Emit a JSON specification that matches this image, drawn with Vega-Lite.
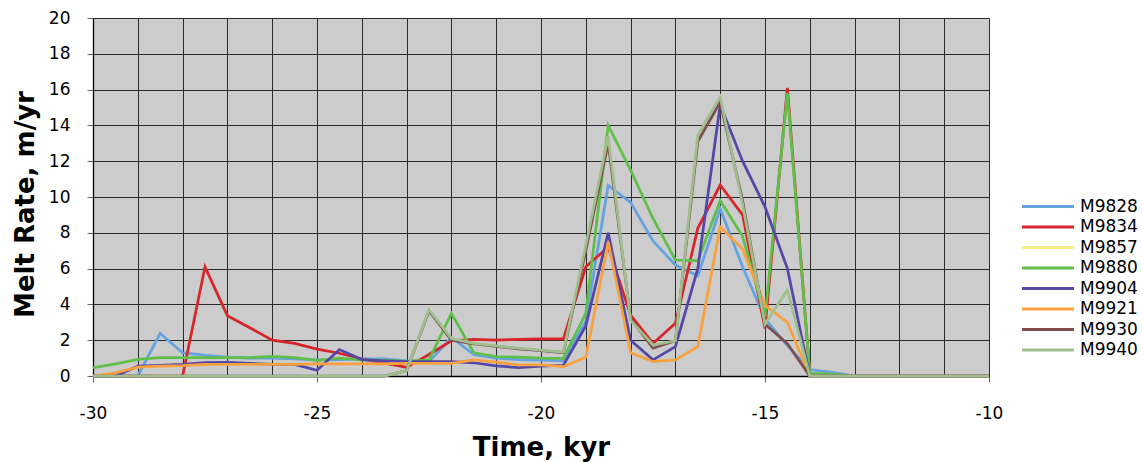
{
"$schema": "https://vega.github.io/schema/vega-lite/v6.json",
"width": 896, "height": 358,
"autosize": {"type": "none"},
"padding": {"left": 93, "top": 18, "right": 153, "bottom": 86},
"config": {
  "font": "DejaVu Sans",
  "view": {"fill": "#cccccc", "stroke": null},
  "axis": {"labelFont": "DejaVu Sans", "labelFontSize": 17, "labelColor": "#000000", "titleFont": "DejaVu Sans", "titleFontSize": 26, "titleFontWeight": "bold", "titleColor": "#000000", "gridColor": "#2b2b2b", "gridOpacity": 1, "gridWidth": 1, "domainColor": "#000000", "domainWidth": 1.3, "tickColor": "#666666", "tickSize": 6, "labelFlush": false, "labelOverlap": false}
},
"data": {"values": [
{"s":"M9828","t":-30,"v":0},{"s":"M9828","t":-29.5,"v":0},{"s":"M9828","t":-29,"v":0},{"s":"M9828","t":-28.5,"v":2.38},{"s":"M9828","t":-28,"v":1.3},{"s":"M9828","t":-27.5,"v":1.15},{"s":"M9828","t":-27,"v":1.05},{"s":"M9828","t":-26.5,"v":1.0},{"s":"M9828","t":-26,"v":1.0},{"s":"M9828","t":-25.5,"v":0.95},{"s":"M9828","t":-25,"v":0.9},{"s":"M9828","t":-24.5,"v":0.92},{"s":"M9828","t":-24,"v":0.95},{"s":"M9828","t":-23.5,"v":0.95},{"s":"M9828","t":-23,"v":0.85},{"s":"M9828","t":-22.5,"v":0.8},{"s":"M9828","t":-22,"v":2.15},{"s":"M9828","t":-21.5,"v":1.2},{"s":"M9828","t":-21,"v":1.0},{"s":"M9828","t":-20.5,"v":0.92},{"s":"M9828","t":-20,"v":0.88},{"s":"M9828","t":-19.5,"v":0.85},{"s":"M9828","t":-19,"v":3.05},{"s":"M9828","t":-18.5,"v":10.65},{"s":"M9828","t":-18,"v":9.7},{"s":"M9828","t":-17.5,"v":7.55},{"s":"M9828","t":-17,"v":6.2},{"s":"M9828","t":-16.5,"v":5.6},{"s":"M9828","t":-16,"v":9.35},{"s":"M9828","t":-15.5,"v":6.1},{"s":"M9828","t":-15,"v":3.2},{"s":"M9828","t":-14.5,"v":1.7},{"s":"M9828","t":-14,"v":0.35},{"s":"M9828","t":-13.5,"v":0.2},{"s":"M9828","t":-13,"v":0},{"s":"M9828","t":-12.5,"v":0},{"s":"M9828","t":-12,"v":0},{"s":"M9828","t":-11.5,"v":0},{"s":"M9828","t":-11,"v":0},{"s":"M9828","t":-10.5,"v":0},{"s":"M9828","t":-10,"v":0},
{"s":"M9834","t":-30,"v":0},{"s":"M9834","t":-29.5,"v":0},{"s":"M9834","t":-29,"v":0},{"s":"M9834","t":-28.5,"v":0},{"s":"M9834","t":-28,"v":0},{"s":"M9834","t":-27.5,"v":6.1},{"s":"M9834","t":-27,"v":3.37},{"s":"M9834","t":-26.5,"v":2.7},{"s":"M9834","t":-26,"v":2.0},{"s":"M9834","t":-25.5,"v":1.82},{"s":"M9834","t":-25,"v":1.5},{"s":"M9834","t":-24.5,"v":1.27},{"s":"M9834","t":-24,"v":0.95},{"s":"M9834","t":-23.5,"v":0.72},{"s":"M9834","t":-23,"v":0.48},{"s":"M9834","t":-22.5,"v":1.2},{"s":"M9834","t":-22,"v":1.97},{"s":"M9834","t":-21.5,"v":2.05},{"s":"M9834","t":-21,"v":2.0},{"s":"M9834","t":-20.5,"v":2.05},{"s":"M9834","t":-20,"v":2.07},{"s":"M9834","t":-19.5,"v":2.07},{"s":"M9834","t":-19,"v":6.1},{"s":"M9834","t":-18.5,"v":7.2},{"s":"M9834","t":-18,"v":3.4},{"s":"M9834","t":-17.5,"v":1.82},{"s":"M9834","t":-17,"v":2.94},{"s":"M9834","t":-16.5,"v":8.25},{"s":"M9834","t":-16,"v":10.67},{"s":"M9834","t":-15.5,"v":9.0},{"s":"M9834","t":-15,"v":2.65},{"s":"M9834","t":-14.5,"v":16.1},{"s":"M9834","t":-14,"v":0.12},{"s":"M9834","t":-13.5,"v":0.05},{"s":"M9834","t":-13,"v":0},{"s":"M9834","t":-12.5,"v":0},{"s":"M9834","t":-12,"v":0},{"s":"M9834","t":-11.5,"v":0},{"s":"M9834","t":-11,"v":0},{"s":"M9834","t":-10.5,"v":0},{"s":"M9834","t":-10,"v":0},
{"s":"M9880","t":-30,"v":0.46},{"s":"M9880","t":-29.5,"v":0.68},{"s":"M9880","t":-29,"v":0.93},{"s":"M9880","t":-28.5,"v":1.02},{"s":"M9880","t":-28,"v":1.03},{"s":"M9880","t":-27.5,"v":1.03},{"s":"M9880","t":-27,"v":1.03},{"s":"M9880","t":-26.5,"v":1.03},{"s":"M9880","t":-26,"v":1.1},{"s":"M9880","t":-25.5,"v":1.03},{"s":"M9880","t":-25,"v":0.87},{"s":"M9880","t":-24.5,"v":1.0},{"s":"M9880","t":-24,"v":0.9},{"s":"M9880","t":-23.5,"v":0.88},{"s":"M9880","t":-23,"v":0.82},{"s":"M9880","t":-22.5,"v":0.9},{"s":"M9880","t":-22,"v":3.5},{"s":"M9880","t":-21.5,"v":1.3},{"s":"M9880","t":-21,"v":1.08},{"s":"M9880","t":-20.5,"v":1.05},{"s":"M9880","t":-20,"v":1.0},{"s":"M9880","t":-19.5,"v":0.99},{"s":"M9880","t":-19,"v":3.5},{"s":"M9880","t":-18.5,"v":14.0},{"s":"M9880","t":-18,"v":11.5},{"s":"M9880","t":-17.5,"v":8.8},{"s":"M9880","t":-17,"v":6.48},{"s":"M9880","t":-16.5,"v":6.44},{"s":"M9880","t":-16,"v":9.8},{"s":"M9880","t":-15.5,"v":7.8},{"s":"M9880","t":-15,"v":3.3},{"s":"M9880","t":-14.5,"v":15.8},{"s":"M9880","t":-14,"v":0.15},{"s":"M9880","t":-13.5,"v":0.1},{"s":"M9880","t":-13,"v":0},{"s":"M9880","t":-12.5,"v":0},{"s":"M9880","t":-12,"v":0},{"s":"M9880","t":-11.5,"v":0},{"s":"M9880","t":-11,"v":0},{"s":"M9880","t":-10.5,"v":0},{"s":"M9880","t":-10,"v":0},
{"s":"M9904","t":-30,"v":0},{"s":"M9904","t":-29.5,"v":0},{"s":"M9904","t":-29,"v":0.55},{"s":"M9904","t":-28.5,"v":0.6},{"s":"M9904","t":-28,"v":0.65},{"s":"M9904","t":-27.5,"v":0.75},{"s":"M9904","t":-27,"v":0.76},{"s":"M9904","t":-26.5,"v":0.7},{"s":"M9904","t":-26,"v":0.65},{"s":"M9904","t":-25.5,"v":0.65},{"s":"M9904","t":-25,"v":0.32},{"s":"M9904","t":-24.5,"v":1.48},{"s":"M9904","t":-24,"v":0.92},{"s":"M9904","t":-23.5,"v":0.85},{"s":"M9904","t":-23,"v":0.8},{"s":"M9904","t":-22.5,"v":0.8},{"s":"M9904","t":-22,"v":0.8},{"s":"M9904","t":-21.5,"v":0.74},{"s":"M9904","t":-21,"v":0.56},{"s":"M9904","t":-20.5,"v":0.47},{"s":"M9904","t":-20,"v":0.55},{"s":"M9904","t":-19.5,"v":0.6},{"s":"M9904","t":-19,"v":2.8},{"s":"M9904","t":-18.5,"v":8.0},{"s":"M9904","t":-18,"v":2.0},{"s":"M9904","t":-17.5,"v":0.9},{"s":"M9904","t":-17,"v":1.64},{"s":"M9904","t":-16.5,"v":6.0},{"s":"M9904","t":-16,"v":15.15},{"s":"M9904","t":-15.5,"v":12.0},{"s":"M9904","t":-15,"v":9.45},{"s":"M9904","t":-14.5,"v":6.0},{"s":"M9904","t":-14,"v":0},{"s":"M9904","t":-13.5,"v":0},{"s":"M9904","t":-13,"v":0},{"s":"M9904","t":-12.5,"v":0},{"s":"M9904","t":-12,"v":0},{"s":"M9904","t":-11.5,"v":0},{"s":"M9904","t":-11,"v":0},{"s":"M9904","t":-10.5,"v":0},{"s":"M9904","t":-10,"v":0},
{"s":"M9921","t":-30,"v":0},{"s":"M9921","t":-29.5,"v":0.18},{"s":"M9921","t":-29,"v":0.5},{"s":"M9921","t":-28.5,"v":0.55},{"s":"M9921","t":-28,"v":0.58},{"s":"M9921","t":-27.5,"v":0.65},{"s":"M9921","t":-27,"v":0.65},{"s":"M9921","t":-26.5,"v":0.65},{"s":"M9921","t":-26,"v":0.65},{"s":"M9921","t":-25.5,"v":0.65},{"s":"M9921","t":-25,"v":0.68},{"s":"M9921","t":-24.5,"v":0.68},{"s":"M9921","t":-24,"v":0.68},{"s":"M9921","t":-23.5,"v":0.68},{"s":"M9921","t":-23,"v":0.7},{"s":"M9921","t":-22.5,"v":0.7},{"s":"M9921","t":-22,"v":0.7},{"s":"M9921","t":-21.5,"v":0.9},{"s":"M9921","t":-21,"v":0.78},{"s":"M9921","t":-20.5,"v":0.62},{"s":"M9921","t":-20,"v":0.62},{"s":"M9921","t":-19.5,"v":0.52},{"s":"M9921","t":-19,"v":1.04},{"s":"M9921","t":-18.5,"v":7.5},{"s":"M9921","t":-18,"v":1.3},{"s":"M9921","t":-17.5,"v":0.8},{"s":"M9921","t":-17,"v":0.9},{"s":"M9921","t":-16.5,"v":1.64},{"s":"M9921","t":-16,"v":8.34},{"s":"M9921","t":-15.5,"v":7.1},{"s":"M9921","t":-15,"v":3.95},{"s":"M9921","t":-14.5,"v":3.0},{"s":"M9921","t":-14,"v":0},{"s":"M9921","t":-13.5,"v":0},{"s":"M9921","t":-13,"v":0},{"s":"M9921","t":-12.5,"v":0},{"s":"M9921","t":-12,"v":0},{"s":"M9921","t":-11.5,"v":0},{"s":"M9921","t":-11,"v":0},{"s":"M9921","t":-10.5,"v":0},{"s":"M9921","t":-10,"v":0},
{"s":"M9930","t":-30,"v":0},{"s":"M9930","t":-29.5,"v":0},{"s":"M9930","t":-29,"v":0},{"s":"M9930","t":-28.5,"v":0},{"s":"M9930","t":-28,"v":0},{"s":"M9930","t":-27.5,"v":0},{"s":"M9930","t":-27,"v":0},{"s":"M9930","t":-26.5,"v":0},{"s":"M9930","t":-26,"v":0},{"s":"M9930","t":-25.5,"v":0},{"s":"M9930","t":-25,"v":0},{"s":"M9930","t":-24.5,"v":0},{"s":"M9930","t":-24,"v":0},{"s":"M9930","t":-23.5,"v":0},{"s":"M9930","t":-23,"v":0.3},{"s":"M9930","t":-22.5,"v":3.65},{"s":"M9930","t":-22,"v":2.0},{"s":"M9930","t":-21.5,"v":1.8},{"s":"M9930","t":-21,"v":1.65},{"s":"M9930","t":-20.5,"v":1.52},{"s":"M9930","t":-20,"v":1.42},{"s":"M9930","t":-19.5,"v":1.3},{"s":"M9930","t":-19,"v":7.0},{"s":"M9930","t":-18.5,"v":13.0},{"s":"M9930","t":-18,"v":3.2},{"s":"M9930","t":-17.5,"v":1.55},{"s":"M9930","t":-17,"v":1.97},{"s":"M9930","t":-16.5,"v":13.1},{"s":"M9930","t":-16,"v":15.3},{"s":"M9930","t":-15.5,"v":9.8},{"s":"M9930","t":-15,"v":2.9},{"s":"M9930","t":-14.5,"v":1.8},{"s":"M9930","t":-14,"v":0},{"s":"M9930","t":-13.5,"v":0},{"s":"M9930","t":-13,"v":0},{"s":"M9930","t":-12.5,"v":0},{"s":"M9930","t":-12,"v":0},{"s":"M9930","t":-11.5,"v":0},{"s":"M9930","t":-11,"v":0},{"s":"M9930","t":-10.5,"v":0},{"s":"M9930","t":-10,"v":0},
{"s":"M9940","t":-30,"v":0},{"s":"M9940","t":-29.5,"v":0},{"s":"M9940","t":-29,"v":0},{"s":"M9940","t":-28.5,"v":0},{"s":"M9940","t":-28,"v":0},{"s":"M9940","t":-27.5,"v":0},{"s":"M9940","t":-27,"v":0},{"s":"M9940","t":-26.5,"v":0},{"s":"M9940","t":-26,"v":0},{"s":"M9940","t":-25.5,"v":0},{"s":"M9940","t":-25,"v":0},{"s":"M9940","t":-24.5,"v":0},{"s":"M9940","t":-24,"v":0},{"s":"M9940","t":-23.5,"v":0},{"s":"M9940","t":-23,"v":0.3},{"s":"M9940","t":-22.5,"v":3.7},{"s":"M9940","t":-22,"v":2.1},{"s":"M9940","t":-21.5,"v":1.82},{"s":"M9940","t":-21,"v":1.68},{"s":"M9940","t":-20.5,"v":1.55},{"s":"M9940","t":-20,"v":1.45},{"s":"M9940","t":-19.5,"v":1.32},{"s":"M9940","t":-19,"v":7.3},{"s":"M9940","t":-18.5,"v":13.4},{"s":"M9940","t":-18,"v":3.1},{"s":"M9940","t":-17.5,"v":1.73},{"s":"M9940","t":-17,"v":1.97},{"s":"M9940","t":-16.5,"v":13.45},{"s":"M9940","t":-16,"v":15.6},{"s":"M9940","t":-15.5,"v":9.6},{"s":"M9940","t":-15,"v":2.9},{"s":"M9940","t":-14.5,"v":4.8},{"s":"M9940","t":-14,"v":0},{"s":"M9940","t":-13.5,"v":0},{"s":"M9940","t":-13,"v":0},{"s":"M9940","t":-12.5,"v":0},{"s":"M9940","t":-12,"v":0},{"s":"M9940","t":-11.5,"v":0},{"s":"M9940","t":-11,"v":0},{"s":"M9940","t":-10.5,"v":0},{"s":"M9940","t":-10,"v":0}
]},
"mark": {"type": "line", "strokeWidth": 2.75},
"encoding": {
  "x": {"field": "t", "type": "quantitative",
    "scale": {"domain": [-30, -10], "nice": false, "zero": false},
    "axis": {"title": "Time, kyr",
      "values": [-30,-29,-28,-27,-26,-25,-24,-23,-22,-21,-20,-19,-18,-17,-16,-15,-14,-13,-12,-11,-10],
      "labelExpr": "datum.value % 5 === 0 ? '' + datum.value : ''",
      "tickOpacity": {"condition": {"test": "datum.value % 5 === 0", "value": 1}, "value": 0},
      "labelPadding": 23, "titleBaseline": "alphabetic", "titleY": 79}},
  "y": {"field": "v", "type": "quantitative",
    "scale": {"domain": [0, 20], "nice": false},
    "axis": {"title": "Melt Rate, m/yr", "values": [0,2,4,6,8,10,12,14,16,18,20],
      "labelPadding": 17, "titleBaseline": "alphabetic", "titleX": -60, "titleY": 186}},
  "color": {"field": "s", "type": "nominal",
    "scale": {"domain": ["M9828","M9834","M9857","M9880","M9904","M9921","M9930","M9940"],
      "range": ["#64a2e0","#d7262b","#f5ee8a","#5fbf4a","#5447a6","#f9a03f","#7f4f4f","#a0bf8e"]},
    "legend": {"title": null, "orient": "none", "legendX": 946.5, "legendY": 180, "padding": 0,
      "symbolType": "M-5.2,0H5.2", "symbolSize": 100, "symbolStrokeWidth": 3,
      "labelFont": "DejaVu Sans", "labelFontSize": 17, "labelColor": "#000000", "labelOffset": 23.5, "rowPadding": 2.5}}
}
}
